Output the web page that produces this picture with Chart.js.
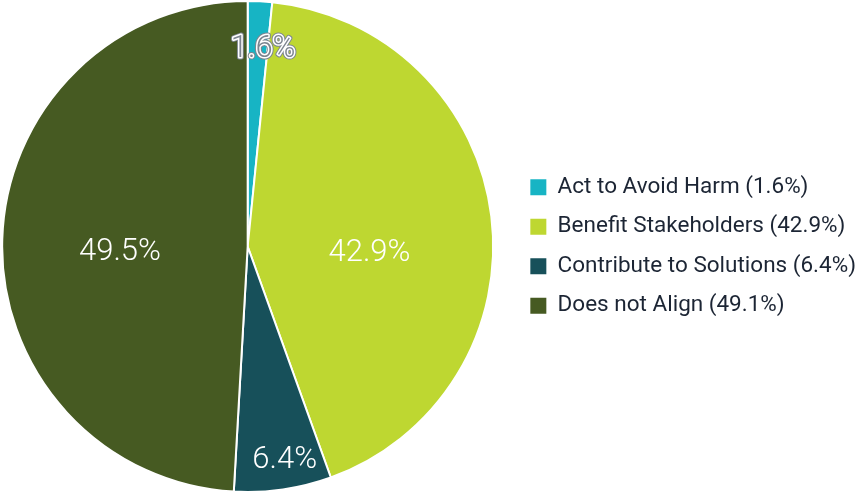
<!DOCTYPE html>
<html>
<head>
<meta charset="utf-8">
<script src="https://cdn.jsdelivr.net/npm/chart.js@4.4.1/dist/chart.umd.min.js"></script>
<style>
  html, body { margin: 0; padding: 0; background: #fff; overflow: hidden; }
  #wrap { width: 862px; height: 493px; overflow: hidden; position: relative; }
  #pie { position: absolute; left: -18px; top: 0; }
</style>
</head>
<body>
<div id="wrap"><canvas id="pie" width="890" height="493"></canvas></div>
<script>
// --- Data ---
const categories = ['Act to Avoid Harm', 'Benefit Stakeholders', 'Contribute to Solutions', 'Does not Align'];
const shares = [1.6, 42.9, 6.4, 49.1];
const sliceLabels = ['1.6%', '42.9%', '6.4%', '49.5%'];

// --- Style ---
const sliceColors = ['#17b4c4', '#bed731', '#17505a', '#465a22'];
const textColor = '#1c2534';
const labelNudge = [[5, 11], [0, 22], [7, 7], [-5, 9]];

// draws the percentage text inside each slice
const sliceLabelPlugin = {
    id: 'sliceLabels',
    afterDatasetsDraw(chart) {
        const ctx = chart.ctx;
        const meta = chart.getDatasetMeta(0);
        ctx.save();
        ctx.font = '300 31px Roboto';
        ctx.textAlign = 'center';
        ctx.textBaseline = 'middle';
        meta.data.forEach((arc, i) => {
            const mid = (arc.startAngle + arc.endAngle) / 2;
            const r = arc.outerRadius * (shares[i] < 10 ? 0.85 : 0.5);
            const x = arc.x + Math.cos(mid) * r + labelNudge[i][0];
            const y = arc.y + Math.sin(mid) * r + labelNudge[i][1];
            if (shares[i] < 3) {
                ctx.lineJoin = 'round';
                ctx.lineWidth = 5;
                ctx.strokeStyle = '#7d8590';
                ctx.strokeText(sliceLabels[i], x, y);
                ctx.lineWidth = 3;
                ctx.strokeStyle = '#ffffff';
                ctx.strokeText(sliceLabels[i], x, y);
                ctx.fillStyle = '#7d8590';
                ctx.fillText(sliceLabels[i], x, y);
            } else {
                ctx.fillStyle = '#ffffff';
                ctx.fillText(sliceLabels[i], x, y);
            }
        });
        ctx.restore();
    }
};

new Chart(document.getElementById('pie'), {
    type: 'pie',
    data: {
        labels: categories,
        datasets: [{
            data: shares,
            backgroundColor: sliceColors,
            borderColor: '#ffffff',
            borderWidth: 2
        }]
    },
    options: {
        responsive: false,
        animation: false,
        layout: { padding: { top: 0, bottom: 0, left: 0, right: 6 } },
        plugins: {
            tooltip: { enabled: false },
            legend: {
                position: 'right',
                labels: {
                    boxWidth: 16,
                    boxHeight: 16,
                    padding: 17,
                    color: textColor,
                    font: { family: 'Roboto', size: 22.5 },
                    generateLabels(chart) {
                        return categories.map((c, i) => ({
                            text: `${c} (${shares[i]}%)`,
                            fillStyle: sliceColors[i],
                            strokeStyle: sliceColors[i],
                            lineWidth: 0,
                            fontColor: textColor,
                            index: i
                        }));
                    }
                }
            }
        }
    },
    plugins: [sliceLabelPlugin]
});
</script>
</body>
</html>
